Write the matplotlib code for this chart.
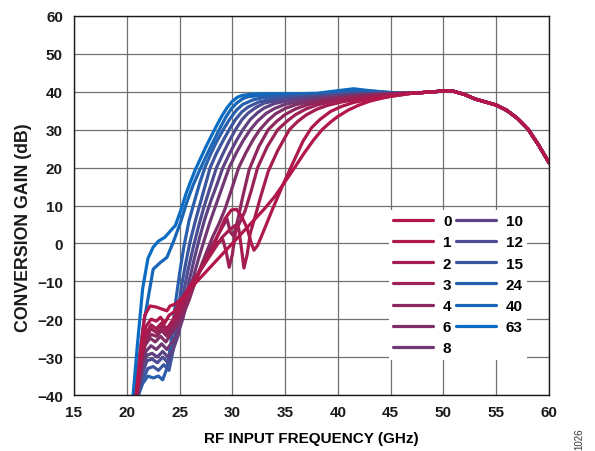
import numpy as np
import matplotlib
matplotlib.use("Agg")
import matplotlib.pyplot as plt

plt.rcParams['font.family'] = ['Liberation Sans', 'DejaVu Sans']
plt.rcParams['font.weight'] = 'bold'

# gain states, drawn blue (63) first so the red curves sit on top
STATES = [63, 40, 24, 15, 12, 10, 8, 6, 4, 3, 2, 1, 0]
COLORS = {
    0: "#b3164a", 1: "#ad194d", 2: "#a51c51", 3: "#9b2156", 4: "#8e275d",
    6: "#803068", 8: "#703975", 10: "#5e4384", 12: "#4c4d92", 15: "#3b569f",
    24: "#295fac", 40: "#1766b8", 63: "#0a6dc3",
}

# shared high-frequency roll-off (all states overlap here)
TAIL_F = [47, 48, 49, 50, 51, 52, 53, 54, 55, 56, 57, 58, 59, 60]
TAIL_G = [39.6, 39.8, 40.0, 40.2, 40.1, 39.3, 38.1, 37.3, 36.5, 35.1, 33.0, 30.2, 26.0, 21.3]

F63 = [20.6, 21.0, 21.5, 22.0, 22.5, 23.0, 23.6, 24.3, 24.6, 25.1, 25.6, 26.0, 26.5, 27.0, 27.5,
       28.0, 28.5, 29.0, 29.5, 30.0, 30.5, 31.0, 32.0, 34.0, 36.0, 38.0, 40.0, 41.5, 43.0, 45.0, 46.0]
G63 = [-40, -27, -12, -4, -1, 0.6, 1.6, 3.8, 4.7, 8.6, 13, 16, 19.5, 22.5, 25.5,
       28.3, 31, 33.6, 35.8, 37.5, 38.6, 39.1, 39.4, 39.5, 39.5, 39.6, 40.3, 40.8, 40.3, 39.8, 39.6]

F40 = [20.8, 21.2, 21.6, 21.9, 22.5, 23.2, 23.8, 24.4, 25.1, 25.7, 26.3, 26.9, 27.4, 27.9, 28.4,
       28.9, 29.4, 29.9, 30.4, 31.0, 31.5, 32.5, 34.0, 36.0, 38.0, 40.0, 41.5, 43.0, 45.0, 46.0]
G40 = [-40, -30, -21, -16.4, -6.8, -5, -3.7, 0.3, 5.6, 11, 15.5, 19.3, 22.3, 25.2, 28,
       30.8, 33.4, 35.5, 37, 38.2, 38.7, 39.0, 39.2, 39.3, 39.4, 40.0, 40.5, 40.2, 39.8, 39.6]

F24 = [21.1, 21.5, 22.0, 22.5, 23.0, 23.4, 23.8, 24.2, 24.6, 25.0, 25.4, 25.9, 26.4, 26.9, 27.4,
       27.9, 28.5, 29.2, 29.8, 30.4, 31.0, 32.0, 33.0, 35.0, 37.0, 39.0, 41.0, 43.0, 45.0, 46.0]
G24 = [-40, -37, -35, -35.5, -35, -36, -33, -26, -16, -8, -1, 6, 11, 15.8, 20,
       23.3, 26.8, 30.3, 33, 35.2, 36.7, 37.9, 38.5, 38.9, 39.1, 39.3, 39.8, 39.9, 39.7, 39.6]

F15 = [21.1, 21.5, 22.0, 22.5, 23.0, 23.5, 24.0, 24.4, 24.8, 25.2, 25.6, 26.0, 26.5, 27.0, 27.5,
       27.9, 28.5, 29.1, 29.7, 30.3, 30.9, 31.5, 32.5, 34.0, 36.0, 38.0, 40.0, 42.0, 44.0, 46.0]
G15 = [-40, -36, -33, -32.5, -33.5, -32, -33.5, -28, -19, -11, -5, 0.5, 6, 11, 16,
       20, 23.8, 27, 30, 32.7, 34.7, 36, 37.3, 38.2, 38.7, 39, 39.4, 39.7, 39.7, 39.6]

F12 = [21.0, 21.4, 21.9, 22.4, 22.9, 23.4, 23.9, 24.3, 24.8, 25.3, 25.8, 26.3, 26.8, 27.3, 27.9,
       28.5, 29.1, 29.7, 30.3, 30.9, 31.5, 32.2, 33.0, 34.5, 36.5, 38.5, 40.5, 42.5, 44.5, 46.0]
G12 = [-40, -35, -31, -30.5, -31.5, -30, -31.5, -29, -22, -14, -7, -1, 4.5, 9.5, 14.8,
       20, 23.6, 27, 30, 32.6, 34.4, 35.8, 37, 37.9, 38.5, 38.9, 39.3, 39.5, 39.6, 39.6]

F10 = [21.0, 21.4, 21.9, 22.4, 22.9, 23.4, 23.9, 24.4, 24.9, 25.4, 25.9, 26.4, 26.9, 27.4, 28.0,
       28.5, 29.1, 29.7, 30.4, 31.0, 31.7, 32.4, 33.0, 34.0, 35.5, 37.5, 39.5, 41.5, 43.5, 46.0]
G10 = [-40, -34, -29.5, -29, -30, -28.5, -30, -28, -24, -17, -10, -4, 1.5, 6.5, 11.5,
       15.2, 20, 23.5, 27.2, 30, 32.7, 34.5, 35.7, 36.9, 37.8, 38.4, 38.8, 39.2, 39.4, 39.6]

F8 = [21.0, 21.4, 21.8, 22.3, 22.8, 23.3, 23.8, 24.3, 24.8, 25.3, 25.8, 26.3, 26.8, 27.3, 27.8,
      28.3, 29.0, 29.7, 30.4, 31.0, 31.7, 32.4, 33.2, 34.0, 35.0, 36.5, 38.5, 40.5, 42.5, 44.5, 46.0]
G8 = [-40, -33, -28.5, -27, -28, -26.5, -28, -26, -24, -20, -14.5, -9, -4, 0.5, 5,
      9, 14.5, 20, 24, 27, 30, 32.3, 34.3, 35.6, 36.7, 37.6, 38.3, 38.8, 39.2, 39.4, 39.6]

F6 = [20.9, 21.3, 21.7, 22.2, 22.7, 23.2, 23.7, 24.2, 24.7, 25.3, 25.9, 26.5, 27.1, 27.6, 28.1,
      28.7, 29.3, 29.9, 30.6, 31.3, 32.0, 32.6, 33.4, 34.1, 35.0, 36.0, 37.5, 39.5, 41.5, 43.5, 46.0]
G6 = [-40, -32, -27, -25, -26, -24.5, -26, -24, -22, -19, -15, -10, -5.5, -2, 1.5,
      5, 9, 14, 20, 24, 27.5, 30, 32.5, 34.2, 35.6, 36.6, 37.5, 38.3, 38.8, 39.2, 39.6]

F4 = [21.0, 21.4, 21.8, 22.3, 22.8, 23.3, 23.8, 24.3, 24.8, 25.4, 26.0, 26.6, 27.2, 27.8, 28.4,
      29.0, 29.5, 29.8, 30.1, 30.5, 31.0, 31.6, 32.5, 33.4, 34.2, 35.0, 36.0, 37.0, 38.5, 40.5,
      42.5, 44.5, 46.0]
G4 = [-40, -31, -26, -24, -24.5, -23, -24.5, -22.5, -20.5, -17.5, -13.5, -9.5, -5.5, -2, 1,
      4, 6.5, 3, 2, 6, 12.5, 19.5, 25.5, 30, 32.2, 34, 35.5, 36.5, 37.5, 38.3,
      38.9, 39.3, 39.6]

F3 = [20.9, 21.3, 21.8, 22.3, 22.8, 23.3, 23.8, 24.3, 24.8, 25.4, 26.0, 26.6, 27.2, 27.8, 28.5,
      29.1, 29.4, 29.7, 30.0, 30.3, 30.7, 31.2, 31.8, 32.4, 33.3, 34.3, 35.2, 36.0, 37.0, 38.0,
      39.5, 41.5, 43.5, 45.0, 46.5]
G3 = [-40, -31, -25, -22.5, -23.5, -22, -23.5, -21.5, -19.5, -16, -12.5, -9, -5.5, -2.5, 0,
      1, -2, -6.3, -3, 3, 5.5, 8.5, 14, 20, 25.5, 30, 32.3, 34, 35.5, 36.5,
      37.5, 38.3, 38.9, 39.3, 39.6]

F2 = [20.9, 21.3, 21.8, 22.3, 22.8, 23.3, 23.8, 24.3, 24.9, 25.6, 26.3, 27.0, 27.7, 28.3, 29.0,
      29.7, 30.3, 30.6, 30.85, 31.1, 31.4, 31.7, 32.1, 32.7, 33.4, 34.3, 35.4, 36.2, 37.0, 38.0,
      39.0, 40.5, 42.5, 44.5, 46.5]
G2 = [-40, -31, -24, -21.5, -22.5, -21, -22.5, -20.5, -17.5, -13.5, -10, -7, -4, -1.5, 1.5,
      3.5, 4.8, 4, -1, -6.5, -3, 2.7, 6.5, 12.5, 19, 24.5, 30, 32.2, 33.9, 35.4,
      36.4, 37.4, 38.3, 38.9, 39.5]

F1 = [20.9, 21.3, 21.8, 22.3, 22.8, 23.2, 23.6, 24.0, 24.5, 25.1, 25.8, 26.5, 27.2, 28.0, 28.6,
      29.3, 29.9, 30.4, 30.9, 31.4, 31.8, 32.05, 32.4, 33.0, 33.8, 34.8, 35.7, 36.7, 37.5, 38.3,
      39.3, 40.3, 41.5, 43.0, 45.0, 46.5]
G1 = [-40, -30, -22, -20, -20.5, -19.5, -21, -19, -18, -15.5, -12, -9, -6, -2.5, 2,
      6.5, 8.8, 9, 7, 4, 0, -1.8, -0.5, 3.5, 9, 15.5, 21, 27, 30.5, 32.7,
      34.8, 36.1, 37.2, 38, 38.8, 39.4]

F0 = [20.9, 21.3, 21.7, 22.2, 22.8, 23.3, 23.8, 24.1, 24.6, 25.2, 26.0, 27.0, 28.0, 29.0, 30.0,
      31.0, 32.0, 33.0, 34.0, 35.0, 35.9, 36.8, 37.7, 38.5, 39.3, 40.0, 41.0, 42.0, 43.0, 44.0,
      45.0, 46.0]
G0 = [-40, -28, -19, -16.5, -16.8, -17.3, -17.8, -16.5, -16, -14.5, -12, -9, -6, -3, 0,
      3, 6, 9, 12.3, 16.3, 20, 23.8, 27.3, 30, 32, 33.5, 35.2, 36.5, 37.5, 38.2,
      38.8, 39.2]

CURVES = {
    63: (F63, G63), 40: (F40, G40), 24: (F24, G24), 15: (F15, G15), 12: (F12, G12),
    10: (F10, G10), 8: (F8, G8), 6: (F6, G6), 4: (F4, G4), 3: (F3, G3),
    2: (F2, G2), 1: (F1, G1), 0: (F0, G0),
}

fig = plt.figure(figsize=(5.95, 4.52), dpi=100)
ax = fig.add_axes([74 / 595, 1 - 396 / 452, 475 / 595, 379 / 452])

lines = {}
for s in STATES:
    f, g = CURVES[s]
    ff = np.concatenate([f, TAIL_F])
    gg = np.concatenate([g, TAIL_G])
    ln, = ax.plot(ff, gg, color=COLORS[s], lw=2.3, solid_capstyle='round',
                  solid_joinstyle='round', label=str(s))
    lines[s] = ln

ax.set_xlim(15, 60)
ax.set_ylim(-40, 60)
ax.set_xticks(np.arange(15, 61, 5))
ax.set_yticks(np.arange(-40, 61, 10))
ax.set_yticklabels([str(v).replace('-', '\u2212') for v in range(-40, 61, 10)])
ax.grid(True, color='#707070', lw=0.9)
ax.set_axisbelow(True)
ax.tick_params(length=0, labelsize=11, colors='#1a1a1a')
ax.tick_params(axis='x', pad=7)
ax.tick_params(axis='y', pad=8)
for sp in ax.spines.values():
    sp.set_color('#1a1a1a')
    sp.set_linewidth(1.0)

ax.set_xlabel("RF INPUT FREQUENCY (GHz)", fontsize=11, fontweight='bold', labelpad=9)
fig.text(24 / 595, 1 - 228 / 452, "CONVERSION GAIN (dB)", rotation=90,
         fontsize=12.8, fontweight='bold', color='#1a1a1a', ha='center', va='center')

order = [0, 1, 2, 3, 4, 6, 8, 10, 12, 15, 24, 40, 63]
leg = ax.legend([lines[s] for s in order], [str(s) for s in order], ncol=2,
                loc='upper left', bbox_to_anchor=(0.6625, 0.489), fontsize=11,
                frameon=True, fancybox=False, framealpha=1, borderpad=0.3,
                handlelength=2.6, handletextpad=0.65, columnspacing=0.3,
                labelspacing=0.47, borderaxespad=0)
leg.get_frame().set_edgecolor('none')
leg.get_frame().set_facecolor('white')

fig.text(0.973, 0.0044, "1026", rotation=90, fontsize=7, fontweight='normal',
         color='#333333', ha='center', va='bottom')

fig.savefig("out.png", dpi=100)
